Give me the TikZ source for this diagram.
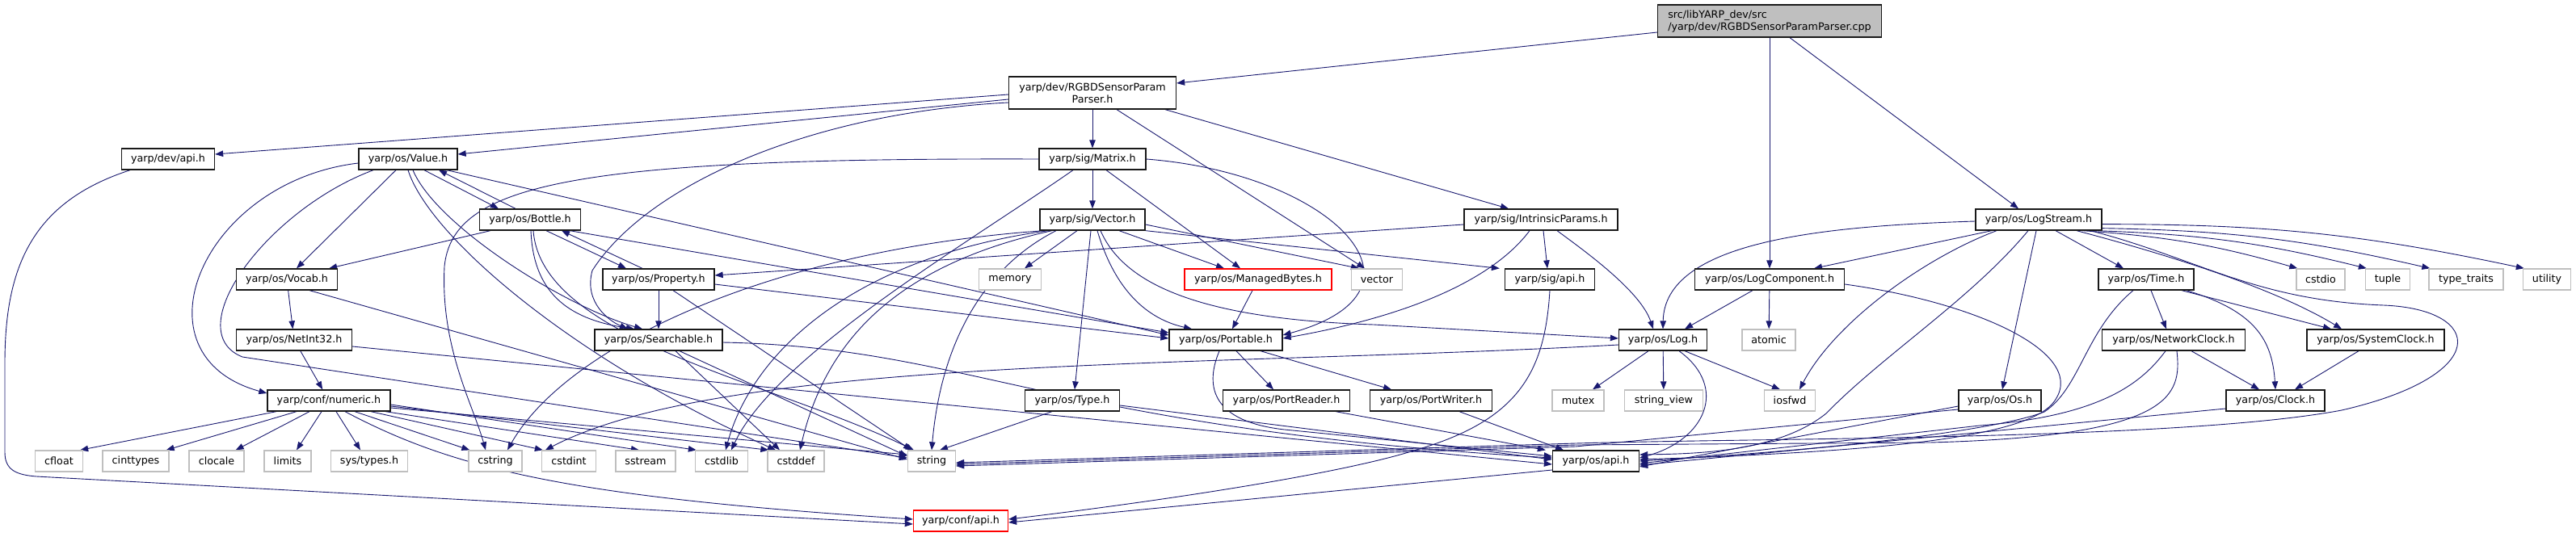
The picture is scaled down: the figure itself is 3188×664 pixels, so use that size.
\documentclass[tikz,border=0pt]{standalone}
\usepackage{fontspec}
\setmainfont{DejaVu Sans}
\usetikzlibrary{arrows.meta}
\pgfdeclarelayer{background}
\pgfsetlayers{background,main}
\definecolor{edgeblue}{HTML}{191970}
\definecolor{rootfill}{HTML}{BFBFBF}
\newcommand\dxfont{\fontsize{12.7}{15}\selectfont}
\begin{document}
\begin{tikzpicture}[x=1pt,y=-1pt,
  box/.style={draw=black!90, line width=1.3pt, fill=white, font=\dxfont, inner sep=0pt, minimum height=26pt, align=center},
  gbox/.style={box, draw=black!25},
  rbox/.style={box, draw=red},
  edge/.style={draw=edgeblue, line width=0.9pt, -{Triangle[length=10pt,width=7.5pt]}}]
\useasboundingbox (0,0) rectangle (3188,664);
% row 0/1
\node[box, fill=rootfill, align=left, minimum width=277pt, minimum height=40pt] (root) at (2190,26) {src/libYARP\_dev/src\\/yarp/dev/RGBDSensorParamParser.cpp};
\node[box, minimum width=207pt, minimum height=40pt] (rgbd) at (1352,115) {yarp/dev/RGBDSensorParam\\Parser.h};
% row y=197
\node[box, minimum width=115pt] (devapi) at (208,197) {yarp/dev/api.h};
\node[box, minimum width=122pt] (value) at (505,197) {yarp/os/Value.h};
\node[box, minimum width=132pt] (matrix) at (1352,197) {yarp/sig/Matrix.h};
% row y=272
\node[box, minimum width=125pt] (bottle) at (656,272) {yarp/os/Bottle.h};
\node[box, minimum width=130pt] (vector) at (1352,272) {yarp/sig/Vector.h};
\node[box, minimum width=190pt] (intr) at (1907,272) {yarp/sig/IntrinsicParams.h};
\node[box, minimum width=156pt] (logstream) at (2523,272) {yarp/os/LogStream.h};
% row y=346
\node[box, minimum width=125pt] (vocab) at (355,346) {yarp/os/Vocab.h};
\node[box, minimum width=138pt] (property) at (815,346) {yarp/os/Property.h};
\node[gbox, minimum width=77pt] (memory) at (1250,346) {memory};
\node[rbox, minimum width=182pt] (managed) at (1557,346) {yarp/os/ManagedBytes.h};
\node[gbox, minimum width=63pt] (vectorstd) at (1704,346) {vector};
\node[box, minimum width=111pt] (sigapi) at (1918,346) {yarp/sig/api.h};
\node[box, minimum width=185pt] (logcomp) at (2190,346) {yarp/os/LogComponent.h};
\node[box, minimum width=118pt] (time) at (2656,346) {yarp/os/Time.h};
\node[gbox, minimum width=60pt] (cstdio) at (2872,346) {cstdio};
\node[gbox, minimum width=55pt] (tuple) at (2955,346) {tuple};
\node[gbox, minimum width=92pt] (typetraits) at (3052,346) {type\_traits};
\node[gbox, minimum width=59pt] (utility) at (3152,346) {utility};
% row y=421
\node[box, minimum width=143pt] (netint) at (364,421) {yarp/os/NetInt32.h};
\node[box, minimum width=158pt] (searchable) at (815,421) {yarp/os/Searchable.h};
\node[box, minimum width=140pt] (portable) at (1517,421) {yarp/os/Portable.h};
\node[box, minimum width=109pt] (log) at (2058,421) {yarp/os/Log.h};
\node[gbox, minimum width=66pt] (atomic) at (2189,421) {atomic};
\node[box, minimum width=177pt] (netclock) at (2690,421) {yarp/os/NetworkClock.h};
\node[box, minimum width=170pt] (sysclock) at (2940,421) {yarp/os/SystemClock.h};
% row y=496
\node[box, minimum width=152pt] (numeric) at (407,496) {yarp/conf/numeric.h};
\node[box, minimum width=117pt] (type) at (1327,496) {yarp/os/Type.h};
\node[box, minimum width=157pt] (portreader) at (1592,496) {yarp/os/PortReader.h};
\node[box, minimum width=151pt] (portwriter) at (1771,496) {yarp/os/PortWriter.h};
\node[gbox, minimum width=64pt] (mutex) at (1953,496) {mutex};
\node[gbox, minimum width=97pt] (stringview) at (2059,496) {string\_view};
\node[gbox, minimum width=63pt] (iosfwd) at (2215,496) {iosfwd};
\node[box, minimum width=102pt] (os) at (2475,496) {yarp/os/Os.h};
\node[box, minimum width=122pt] (clock) at (2816,496) {yarp/os/Clock.h};
% row y=571
\node[gbox, minimum width=59pt] (cfloat) at (73,571) {cfloat};
\node[gbox, minimum width=82pt] (cinttypes) at (168,571) {cinttypes};
\node[gbox, minimum width=68pt] (clocale) at (268,571) {clocale};
\node[gbox, minimum width=58pt] (limits) at (356,571) {limits};
\node[gbox, minimum width=95pt] (systypes) at (457,571) {sys/types.h};
\node[gbox, minimum width=66pt] (cstring) at (613,571) {cstring};
\node[gbox, minimum width=67pt] (cstdint) at (704,571) {cstdint};
\node[gbox, minimum width=74pt] (sstream) at (799,571) {sstream};
\node[gbox, minimum width=65pt] (cstdlib) at (893,571) {cstdlib};
\node[gbox, minimum width=70pt] (cstddef) at (985,571) {cstddef};
\node[gbox, minimum width=59pt] (string) at (1153,571) {string};
\node[box, minimum width=107pt] (osapi) at (1975,571) {yarp/os/api.h};
% row y=645
\node[rbox, minimum width=117pt] (confapi) at (1189,645) {yarp/conf/api.h};

\begin{pgfonlayer}{background}
\fill[white] (0,0) rectangle (3188,664);
% root
\draw[edge] ([yshift=-14pt]root.west) -- ([yshift=12pt]rgbd.east);
\draw[edge] (root.south) -- (logcomp.north);
\draw[edge] ([xshift=25pt]root.south) -- ([xshift=-25pt]logstream.north);
% rgbd
\draw[edge] ([yshift=-2pt]rgbd.west) -- ([yshift=6pt]devapi.east);
\draw[edge] ([yshift=-8pt]rgbd.west) -- ([yshift=6pt]value.east);
\draw[edge] ([yshift=-12pt]rgbd.west) .. controls (1000,140) and (800,230) .. (733,335) .. controls (722,375) and (755,398) .. ([xshift=-38pt]searchable.north);
\draw[edge] (rgbd) -- (matrix);
\draw[edge] ([xshift=30pt]rgbd.south) -- ([xshift=-15pt]vectorstd.north);
\draw[edge] ([xshift=90pt]rgbd.south) -- ([xshift=-40pt]intr.north);
% value
\draw[edge] ([xshift=20pt]value.south) -- ([xshift=-39pt]bottle.north);
\draw[edge] ([xshift=-18pt]bottle.north) -- ([xshift=38pt]value.south);
\draw[edge] ([xshift=-15pt]value.south) -- ([xshift=12pt]vocab.north);
\draw[edge] ([yshift=-5pt]value.west) .. controls (250,225) and (160,440) .. ([yshift=9pt]numeric.west);
\draw[edge] ([xshift=-43pt]value.south) .. controls (330,260) and (220,410) .. (300,442) -- ([yshift=4pt]string.west);
\draw[edge] ([xshift=6pt]value.south) .. controls (540,280) and (700,380) .. ([xshift=-20pt]searchable.north);
\draw[edge] ([xshift=0pt]value.south) .. controls (530,290) and (700,440) .. ([xshift=-25pt]cstddef.north);
\draw[edge] ([xshift=48pt]value.south) -- ([yshift=6pt]portable.west);
% bottle
\draw[edge] ([xshift=-49pt]bottle.south) -- ([xshift=-11pt]vocab.north east);
\draw[edge] ([xshift=20pt]bottle.south) -- ([xshift=-40pt]property.north);
\draw[edge] ([xshift=-20pt]property.north) -- ([xshift=39pt]bottle.south);
\draw[edge] ([xshift=1pt]bottle.south) .. controls (660,360) and (700,395) .. ([xshift=-30pt]searchable.north);
\draw[edge] ([xshift=4pt]bottle.south) .. controls (670,420) and (950,470) .. ([xshift=-22pt]string.north);
\draw[edge] ([xshift=49pt]bottle.south) -- ([yshift=9pt]portable.west);
% property
\draw[edge] (property) -- (searchable);
\draw[edge] ([xshift=18pt]property.south) -- ([xshift=-25pt]string.north);
\draw[edge] ([yshift=-6pt]property.east) -- ([yshift=2pt]portable.west);
% searchable
\draw[edge] ([xshift=21pt]searchable.south) -- ([xshift=-20pt]cstddef.north);
\draw[edge] ([xshift=26pt]searchable.south) -- ([yshift=6pt]string.west);
\draw[edge] ([yshift=-3pt]searchable.east) .. controls (1200,430) and (1300,530) .. ([yshift=4pt]osapi.west);
% vocab, netint
\draw[edge] (vocab) -- (netint);
\draw[edge] ([xshift=28pt]vocab.south) -- ([yshift=2pt]string.west);
\draw[edge] (netint) -- (numeric);
\draw[edge] ([yshift=-8pt]netint.east) -- ([yshift=-4pt]osapi.west);
% numeric
\draw[edge] ([xshift=-65pt]numeric.south) -- ([xshift=-4pt]cfloat.north east);
\draw[edge] ([xshift=-40pt]numeric.south) -- ([xshift=-4pt]cinttypes.north east);
\draw[edge] ([xshift=-24pt]numeric.south) -- ([xshift=-11pt]clocale.north east);
\draw[edge] ([xshift=-9pt]numeric.south) -- ([xshift=11pt]limits.north);
\draw[edge] ([xshift=9pt]numeric.south) -- ([xshift=-11pt]systypes.north);
\draw[edge] ([xshift=32pt]numeric.south) -- ([xshift=2pt]cstring.north west);
\draw[edge] ([xshift=52pt]numeric.south) -- ([xshift=2pt]cstdint.north west);
\draw[edge] ([xshift=70pt]numeric.south) -- ([xshift=-8pt]sstream.north);
\draw[edge] ([yshift=-5pt]numeric.east) -- ([xshift=2pt]cstdlib.north west);
\draw[edge] ([yshift=-7pt]numeric.east) -- ([xshift=2pt]cstddef.north west);
\draw[edge] ([yshift=-9pt]numeric.east) -- ([yshift=8pt]string.west);
\draw[edge] ([xshift=20pt]numeric.south) .. controls (560,580) and (700,615) .. ([yshift=2pt]confapi.west);
% devapi
\draw[edge] ([xshift=-47pt]devapi.south) .. controls (40,250) and (6,330) .. (6,450) -- (6,560) .. controls (6,582) and (20,588) .. (45,590) -- ([yshift=-4pt]confapi.west);
% matrix
\draw[edge] (matrix) -- (vector);
\draw[edge] ([xshift=17pt]matrix.south) -- ([xshift=-22pt]managed.north);
\draw[edge] (matrix.west) .. controls (700,195) and (560,230) .. (550,330) .. controls (545,430) and (585,500) .. ([xshift=-12pt]cstring.north);
\draw[edge] ([xshift=-24pt]matrix.south) .. controls (1200,300) and (960,440) .. ([xshift=12pt]cstdlib.north);
\draw[edge] (matrix.east) .. controls (1650,215) and (1790,360) .. ([yshift=6pt]portable.east);
% vector
\draw[edge] ([xshift=-19pt]vector.south) -- ([xshift=18pt]memory.north);
\draw[edge] ([xshift=33pt]vector.south) -- ([xshift=-42pt]managed.north);
\draw[edge] ([yshift=-6pt]vector.east) -- ([xshift=-22pt]vectorstd.north);
\draw[edge] (vector.south east) -- ([xshift=-6pt]sigapi.north west);
\draw[edge] ([xshift=10pt]vector.south) .. controls (1390,350) and (1480,395) .. (1700,402) -- ([yshift=2pt]log.west);
\draw[edge] ([xshift=-2pt]vector.south) -- ([xshift=3pt]type.north);
\draw[edge] ([xshift=6pt]vector.south) .. controls (1380,360) and (1420,395) .. ([xshift=-42pt]portable.north);
\draw[edge] ([xshift=-45pt]vector.south) .. controls (1220,330) and (1165,420) .. (string.north);
\draw[edge] ([xshift=-50pt]vector.south) .. controls (1100,330) and (1020,430) .. ([xshift=5pt]cstddef.north);
\draw[edge] ([xshift=-55pt]vector.south) .. controls (1050,320) and (930,440) .. ([xshift=5pt]cstdlib.north);
\draw[edge] ([xshift=-60pt]vector.south) .. controls (950,310) and (700,430) .. ([xshift=15pt]cstring.north);
% intrinsic params
\draw[edge] ([yshift=-6pt]intr.west) -- ([yshift=5pt]property.east);
\draw[edge] ([xshift=3pt]intr.south) -- ([xshift=-3pt]sigapi.north);
\draw[edge] ([xshift=20pt]intr.south) .. controls (1960,310) and (2030,360) .. ([xshift=-12pt]log.north);
\draw[edge] ([xshift=-14pt]intr.south) .. controls (1860,330) and (1780,385) .. ([yshift=2pt]portable.east);
% sig api
\draw[edge] (sigapi.south) .. controls (1912,460) and (1880,520) .. (1753,557) .. controls (1650,590) and (1400,625) .. ([yshift=2pt]confapi.east);
% managed, portable
\draw[edge] ([xshift=-7pt]managed.south) -- ([xshift=8pt]portable.north);
\draw[edge] ([xshift=13pt]portable.south) -- ([xshift=-16pt]portreader.north);
\draw[edge] ([xshift=43pt]portable.south) -- ([xshift=-49pt]portwriter.north);
\draw[edge] ([xshift=-8pt]portable.south) .. controls (1490,480) and (1500,525) .. (1600,533) -- ([yshift=6pt]osapi.west);
% type, reader, writer
\draw[edge] ([xshift=-25pt]type.south) -- ([xshift=10pt]string.north);
\draw[edge] ([yshift=-6pt]type.east) -- ([yshift=2pt]osapi.west);
\draw[edge] ([xshift=61pt]portreader.south) -- ([xshift=-8pt]osapi.north west);
\draw[edge] ([xshift=35pt]portwriter.south) -- ([xshift=-40pt]osapi.north);
% log
\draw[edge] ([xshift=-18pt]log.south) -- ([xshift=18pt]mutex.north);
\draw[edge] (log) -- (stringview);
\draw[edge] ([xshift=27pt]log.south) -- ([xshift=-12pt]iosfwd.north);
\draw[edge] ([xshift=20pt]log.south) .. controls (2140,480) and (2110,545) .. ([yshift=4pt]osapi.east);
\draw[edge] ([yshift=-6pt]log.west) .. controls (1500,455) and (900,440) .. ([xshift=5pt]cstdint.north west);
% log component
\draw[edge] ([xshift=-21pt]logcomp.south) -- ([xshift=27pt]log.north);
\draw[edge] (logcomp) -- (atomic);
\draw[edge] ([yshift=-6pt]logcomp.east) .. controls (2450,375) and (2590,440) .. (2540,500) .. controls (2500,545) and (2300,560) .. ([yshift=2pt]osapi.east);
% log stream
\draw[edge] ([yshift=-2pt]logstream.west) .. controls (2250,280) and (2060,300) .. (log.north);
\draw[edge] ([xshift=-58pt]logstream.south) -- ([xshift=55pt]logcomp.north);
\draw[edge] ([xshift=-52pt]logstream.south) .. controls (2380,320) and (2270,400) .. ([xshift=12pt]iosfwd.north);
\draw[edge] ([xshift=-3pt]logstream.south) -- ([xshift=3pt]os.north);
\draw[edge] ([xshift=21pt]logstream.south) -- ([xshift=-28pt]time.north);
\draw[edge] ([xshift=47pt]logstream.south) .. controls (2700,320) and (2820,360) .. ([xshift=-42pt]sysclock.north);
\draw[edge] ([xshift=54pt]logstream.south) to[bend left=6] ([xshift=2pt]cstdio.north west);
\draw[edge] ([xshift=69pt]logstream.south) to[bend left=6] ([xshift=2pt]tuple.north west);
\draw[edge] ([yshift=3pt]logstream.south east) to[bend left=6] ([xshift=2pt]typetraits.north west);
\draw[edge] ([yshift=8pt]logstream.south east) to[bend left=6] ([xshift=2pt]utility.north west);
\draw[edge] ([xshift=-13pt]logstream.south) .. controls (2440,370) and (2330,440) .. (2260,512) .. controls (2200,560) and (2100,562) .. ([yshift=8pt]osapi.east);
\draw[edge] ([xshift=64pt]logstream.south) .. controls (2720,320) and (2790,372) .. (2950,378) .. controls (3075,383) and (3085,465) .. (2898,508) .. controls (2700,545) and (2200,542) .. (1950,549) -- ([yshift=-2pt]string.east);
% time
\draw[edge] ([xshift=6pt]time.south) -- ([xshift=-9pt]netclock.north);
\draw[edge] ([xshift=44pt]time.south) -- ([xshift=-55pt]sysclock.north);
\draw[edge] ([xshift=50pt]time.south) .. controls (2790,385) and (2812,420) .. (clock.north);
\draw[edge] ([xshift=-16pt]time.south) .. controls (2580,410) and (2575,480) .. (2530,510) .. controls (2480,530) and (2300,555) .. ([yshift=0pt]osapi.east);
% network clock, system clock, clock, os
\draw[edge] ([xshift=-10pt]netclock.south) .. controls (2650,475) and (2600,515) .. (2450,527) -- ([yshift=-3pt]osapi.east);
\draw[edge] ([xshift=4pt]netclock.south) .. controls (2700,490) and (2690,540) .. (2388,548) -- (1950,551) -- ([yshift=-4pt]string.east);
\draw[edge] ([xshift=22pt]netclock.south) -- ([xshift=-20pt]clock.north);
\draw[edge] ([xshift=-21pt]sysclock.south) -- ([xshift=24pt]clock.north);
\draw[edge] ([yshift=-10pt]clock.west) -- ([yshift=-5pt]osapi.east);
\draw[edge] ([yshift=-7pt]os.west) -- ([yshift=-7pt]osapi.east);
\draw[edge] ([yshift=-11pt]os.west) -- (1950,553) -- ([yshift=-6pt]string.east);
% os api
\draw[edge] ([yshift=-11pt]osapi.west) -- ([yshift=-2pt]confapi.east);
\end{pgfonlayer}
\end{tikzpicture}
\end{document}
